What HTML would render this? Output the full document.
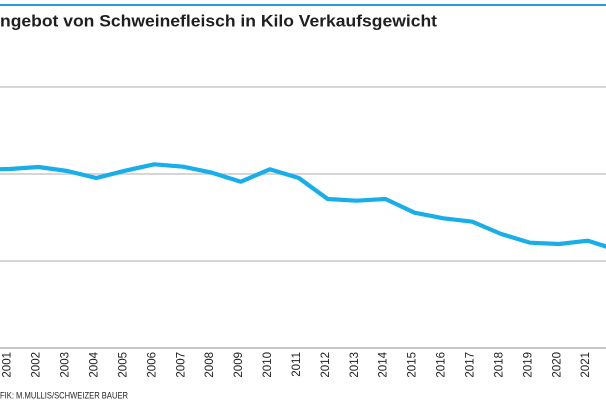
<!DOCTYPE html>
<html>
<head>
<meta charset="utf-8">
<style>
  html,body{margin:0;padding:0;background:#fff;}
  body{width:606px;height:402px;overflow:hidden;}
  svg{display:block;}
  text{font-family:"Liberation Sans",Arial,sans-serif;}
</style>
</head>
<body>
<svg width="606" height="402" viewBox="0 0 606 402" xmlns="http://www.w3.org/2000/svg">
  <rect x="0" y="0" width="606" height="402" fill="#fff"/>
  <!-- top rule -->
  <rect x="0" y="4" width="606" height="2" fill="#2a9ad8"/>
  <!-- title -->
  <text x="0" y="26.5" font-size="17" font-weight="bold" fill="#1f1f1f" textLength="437" lengthAdjust="spacingAndGlyphs">ngebot von Schweinefleisch in Kilo Verkaufsgewicht</text>

  <!-- grid -->
  <g stroke="#c8c8c8" stroke-width="1.5">
    <line x1="0" y1="87" x2="606" y2="87"/>
    <line x1="0" y1="174" x2="606" y2="174"/>
    <line x1="0" y1="261" x2="606" y2="261"/>
  </g>
  <line x1="0" y1="348" x2="606" y2="348" stroke="#b4b4b4" stroke-width="1.5"/>

  <!-- series -->
  <polyline fill="none" stroke="#18aeea" stroke-width="4.2" stroke-linejoin="round" stroke-linecap="round"
    points="-19.4,169.5 9.5,169 38.4,167 67.4,171 96.3,178 125.2,170.7 154.2,164.3 183.1,166.7 212,172.7 240.9,181.7 269.8,169.3 298.8,178 327.7,199 356.6,200.7 385.5,199 414.5,212.7 443.4,218.3 472.3,221.7 501.2,234 530.2,242.7 559.1,244 588,240.7 616.9,250"/>

  <!-- x labels -->
  <g font-size="11.5" fill="#222" text-anchor="end">
    <text transform="translate(10.7,352) rotate(-90)">2001</text>
    <text transform="translate(39.6,352) rotate(-90)">2002</text>
    <text transform="translate(68.6,352) rotate(-90)">2003</text>
    <text transform="translate(97.5,352) rotate(-90)">2004</text>
    <text transform="translate(126.4,352) rotate(-90)">2005</text>
    <text transform="translate(155.4,352) rotate(-90)">2006</text>
    <text transform="translate(184.3,352) rotate(-90)">2007</text>
    <text transform="translate(213.2,352) rotate(-90)">2008</text>
    <text transform="translate(242.1,352) rotate(-90)">2009</text>
    <text transform="translate(271,352) rotate(-90)">2010</text>
    <text transform="translate(300,352) rotate(-90)">2011</text>
    <text transform="translate(328.9,352) rotate(-90)">2012</text>
    <text transform="translate(357.8,352) rotate(-90)">2013</text>
    <text transform="translate(386.7,352) rotate(-90)">2014</text>
    <text transform="translate(415.7,352) rotate(-90)">2015</text>
    <text transform="translate(444.6,352) rotate(-90)">2016</text>
    <text transform="translate(473.5,352) rotate(-90)">2017</text>
    <text transform="translate(502.4,352) rotate(-90)">2018</text>
    <text transform="translate(531.4,352) rotate(-90)">2019</text>
    <text transform="translate(560.3,352) rotate(-90)">2020</text>
    <text transform="translate(589.2,352) rotate(-90)">2021</text>
  </g>

  <!-- source -->
  <text x="0" y="398.5" font-size="9.5" fill="#222" textLength="128" lengthAdjust="spacingAndGlyphs">FIK: M.MULLIS/SCHWEIZER BAUER</text>
</svg>
</body>
</html>
